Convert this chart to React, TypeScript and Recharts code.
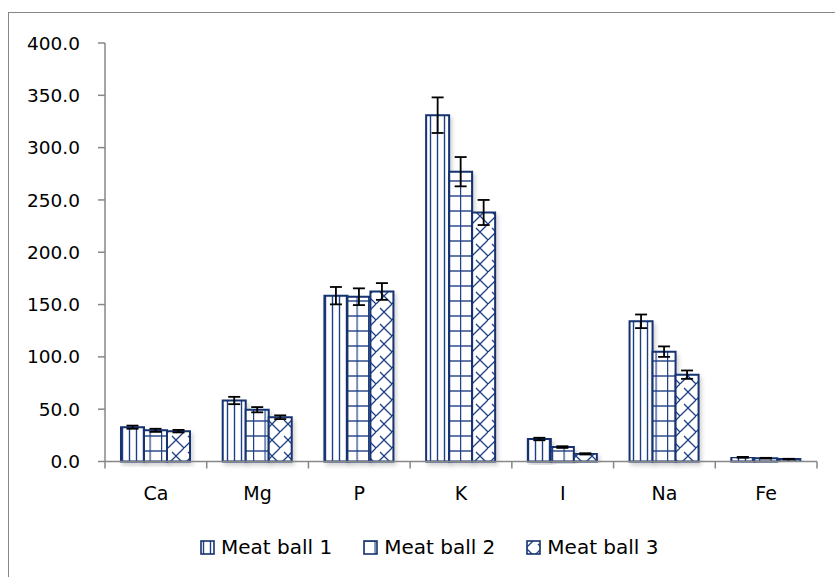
import React from 'react';
import { BarChart, Bar, XAxis, YAxis, ErrorBar, Legend } from 'recharts';

const categories = ['Ca', 'Mg', 'P', 'K', 'I', 'Na', 'Fe'];
const meatBall1 = [32.8, 58.3, 158.5, 331.0, 21.5, 134.0, 4.0];
const meatBall2 = [29.8, 49.5, 157.5, 277.0, 13.8, 105.0, 3.2];
const meatBall3 = [29.0, 42.3, 162.5, 238.0, 7.3, 83.0, 2.3];
const err1 = [1.5, 3.5, 8.3, 17.0, 1.2, 6.5, 0.4];
const err2 = [1.5, 2.5, 8.0, 14.0, 0.8, 5.0, 0.3];
const err3 = [1.2, 1.8, 8.0, 12.0, 0.6, 4.0, 0.3];
const yTicks = [0, 50, 100, 150, 200, 250, 300, 350, 400];
const seriesNames = ['Meat ball 1', 'Meat ball 2', 'Meat ball 3'];

const data = categories.map((c, i) => ({
  name: c,
  m1: meatBall1[i],
  m2: meatBall2[i],
  m3: meatBall3[i],
  e1: err1[i],
  e2: err2[i],
  e3: err3[i],
}));

const W = 835;
const H = 577;
const Y_AXIS_W = 105;
const M_RIGHT = 18;
const BW = (W - Y_AXIS_W - M_RIGHT) / categories.length;
const NAVY = '#14316F';
const LINE = '#1F3F85';
const GRAY = '#878787';
const FONT = '"DejaVu Sans", sans-serif';

const patterns = ['patV', 'patG', 'patD'];

function XTick(props: any) {
  const { x, y, payload, index } = props;
  return (
    <g>
      <line x1={x - BW / 2} x2={x - BW / 2} y1={y} y2={y + 7} stroke={GRAY} strokeWidth={1.5} />
      {index === categories.length - 1 && (
        <line x1={x + BW / 2} x2={x + BW / 2} y1={y} y2={y + 7} stroke={GRAY} strokeWidth={1.5} />
      )}
      <text x={x} y={y + 38} textAnchor="middle" fontFamily={FONT} fontSize={19} fill="#000">
        {payload.value}
      </text>
    </g>
  );
}

function renderLegend() {
  return (
    <div style={{ display: 'flex', alignItems: 'center', fontFamily: FONT, fontSize: 20, color: '#000', whiteSpace: 'nowrap' }}>
      {seriesNames.map((s, i) => (
        <div key={s} style={{ display: 'flex', alignItems: 'center', marginRight: i < 2 ? 31 : 0 }}>
          <svg width={15} height={15} style={{ display: 'block' }}>
            <rect x={1} y={1} width={13} height={13} fill={`url(#${patterns[i]})`} stroke={NAVY} strokeWidth={1.6} />
          </svg>
          <span style={{ marginLeft: 6 }}>{s}</span>
        </div>
      ))}
    </div>
  );
}

export default function App() {
  return (
    <div style={{ position: 'absolute', left: 0, top: 0, width: W, height: H, overflow: 'hidden', background: '#fff' }}>
      <div
        style={{
          position: 'absolute',
          left: 8,
          top: 12,
          width: 1000,
          height: 1000,
          border: `1.5px solid ${GRAY}`,
        }}
      />
      <div style={{ position: 'absolute', left: 0, top: 0 }}>
        <BarChart
          width={W}
          height={H}
          data={data}
          margin={{ top: 43, right: M_RIGHT, bottom: 0, left: 0 }}
          barSize={23}
          barGap={0}
        >
          <defs>
            <pattern id="patV" patternUnits="userSpaceOnUse" width={7} height={10}>
              <rect x={0} y={0} width={7} height={10} fill="#fff" />
              <line x1={3.5} y1={0} x2={3.5} y2={10} stroke={LINE} strokeWidth={1.4} />
            </pattern>
            <pattern id="patG" patternUnits="userSpaceOnUse" width={11.5} height={15}>
              <rect x={0} y={0} width={11.5} height={15} fill="#fff" />
              <line x1={0.5} y1={0} x2={0.5} y2={15} stroke={LINE} strokeWidth={1.4} />
              <line x1={0} y1={1} x2={11.5} y2={1} stroke={LINE} strokeWidth={1.4} />
            </pattern>
            <pattern id="patD" patternUnits="userSpaceOnUse" width={16} height={16}>
              <rect x={0} y={0} width={16} height={16} fill="#fff" />
              <path d="M0,8 L8,0 M8,16 L16,8 M0,8 L8,16 M12,4 L16,8" stroke={LINE} strokeWidth={1.3} fill="none" />
            </pattern>
            <filter id="shadow" x="-20%" y="-5%" width="150%" height="120%">
              <feDropShadow dx={2} dy={3} stdDeviation={2} floodColor="#000" floodOpacity={0.18} />
            </filter>
          </defs>
          <XAxis
            dataKey="name"
            height={115.5}
            tickSize={0}
            tickMargin={0}
            tickLine={false}
            axisLine={{ stroke: GRAY, strokeWidth: 1.5 }}
            tick={<XTick />}
            interval={0}
          />
          <YAxis
            width={Y_AXIS_W}
            domain={[0, 400]}
            ticks={yTicks}
            interval={0}
            tickSize={7}
            tickMargin={18}
            tickFormatter={(v: number) => v.toFixed(1)}
            axisLine={{ stroke: GRAY, strokeWidth: 1.5 }}
            tickLine={{ stroke: GRAY, strokeWidth: 1.5 }}
            tick={{ fill: '#000', fontFamily: FONT, fontSize: 18.5 }}
          />
          <Legend
            content={renderLegend}
            layout="horizontal"
            verticalAlign="middle"
            align="center"
            wrapperStyle={{ left: 200, top: 535, width: 'auto', height: 'auto' }}
          />
          <Bar dataKey="m1" name={seriesNames[0]} fill="url(#patV)" stroke={NAVY} strokeWidth={2} isAnimationActive={false} style={{ filter: 'url(#shadow)' }}>
            <ErrorBar dataKey="e1" width={6} stroke="#000" strokeWidth={1.8} isAnimationActive={false} />
          </Bar>
          <Bar dataKey="m2" name={seriesNames[1]} fill="url(#patG)" stroke={NAVY} strokeWidth={2} isAnimationActive={false} style={{ filter: 'url(#shadow)' }}>
            <ErrorBar dataKey="e2" width={6} stroke="#000" strokeWidth={1.8} isAnimationActive={false} />
          </Bar>
          <Bar dataKey="m3" name={seriesNames[2]} fill="url(#patD)" stroke={NAVY} strokeWidth={2} isAnimationActive={false} style={{ filter: 'url(#shadow)' }}>
            <ErrorBar dataKey="e3" width={6} stroke="#000" strokeWidth={1.8} isAnimationActive={false} />
          </Bar>
        </BarChart>
      </div>
    </div>
  );
}
